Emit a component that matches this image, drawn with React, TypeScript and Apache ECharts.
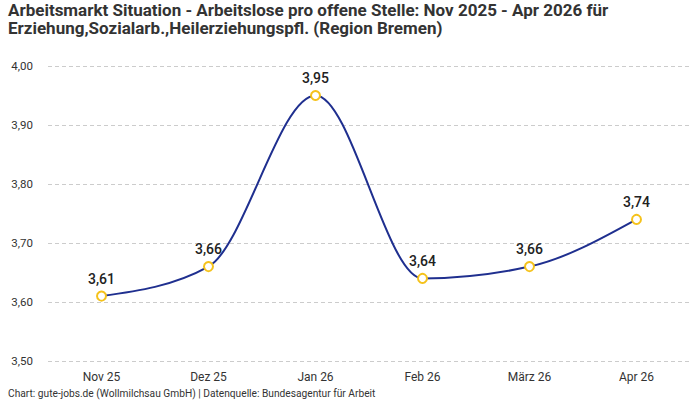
import React, { useEffect, useRef } from "react";
import * as echarts from "echarts";

const categories = ["Nov 25", "Dez 25", "Jan 26", "Feb 26", "März 26", "Apr 26"];
const values = [3.61, 3.66, 3.95, 3.64, 3.66, 3.74];
const titleText =
  "Arbeitsmarkt Situation - Arbeitslose pro offene Stelle: Nov 2025 - Apr 2026 für\nErziehung,Sozialarb.,Heilerziehungspfl. (Region Bremen)";
const footerText =
  "Chart: gute-jobs.de (Wollmilchsau GmbH) | Datenquelle: Bundesagentur für Arbeit";

const fmt = (v: number) => v.toFixed(2).replace(".", ",");

// monotone cubic (monotoneX) path through pixel points
function monotonePath(pts: number[][]): string {
  const n = pts.length;
  if (n < 2) return "";
  const s: number[] = [];
  const h: number[] = [];
  for (let i = 0; i < n - 1; i++) {
    h.push(pts[i + 1][0] - pts[i][0]);
    s.push((pts[i + 1][1] - pts[i][1]) / h[i]);
  }
  const t: number[] = new Array(n).fill(0);
  for (let i = 1; i < n - 1; i++) {
    const s0 = s[i - 1];
    const s1 = s[i];
    if (s0 * s1 <= 0) {
      t[i] = 0;
    } else {
      const p = (s0 * h[i] + s1 * h[i - 1]) / (h[i - 1] + h[i]);
      t[i] =
        (Math.sign(s0) + Math.sign(s1)) *
        Math.min(Math.abs(s0), Math.abs(s1), 0.5 * Math.abs(p));
    }
  }
  t[0] = (3 * s[0] - t[1]) / 2;
  t[n - 1] = (3 * s[n - 2] - t[n - 2]) / 2;
  let d = `M${pts[0][0]},${pts[0][1]}`;
  for (let i = 0; i < n - 1; i++) {
    const dx = h[i] / 3;
    const c1x = pts[i][0] + dx;
    const c1y = pts[i][1] + dx * t[i];
    const c2x = pts[i + 1][0] - dx;
    const c2y = pts[i + 1][1] - dx * t[i + 1];
    d += ` C${c1x},${c1y} ${c2x},${c2y} ${pts[i + 1][0]},${pts[i + 1][1]}`;
  }
  return d;
}

export default function App() {
  const ref = useRef<HTMLDivElement>(null);
  useEffect(() => {
    if (!ref.current) return;
    const chart = echarts.init(ref.current, undefined, { renderer: "svg" });
    chart.setOption({
      animation: false,
      backgroundColor: "#ffffff",
      textStyle: { fontFamily: "Roboto, sans-serif" },
      title: {
        text: titleText,
        left: 8,
        top: 1,
        padding: 0,
        textStyle: {
          fontSize: 17,
          fontWeight: "bold",
          color: "#333333",
          lineHeight: 18,
          fontFamily: "Roboto, sans-serif",
        },
      },
      graphic: [
        {
          type: "text",
          left: 8,
          bottom: 2,
          style: {
            text: footerText,
            fontSize: 10.2,
            fill: "#333333",
            fontFamily: "Roboto, sans-serif",
          },
        },
      ],
      grid: { left: 48, right: 10, top: 66, bottom: 39 },
      xAxis: {
        type: "category",
        data: categories,
        boundaryGap: true,
        axisLine: { show: false },
        axisTick: { show: false },
        axisLabel: { color: "#333333", fontSize: 12, margin: 10 },
      },
      yAxis: {
        type: "value",
        min: 3.5,
        max: 4.0,
        interval: 0.1,
        axisLine: { show: false },
        axisTick: { show: false },
        axisLabel: {
          color: "#333333",
          fontSize: 11.5,
          margin: 15,
          formatter: (v: number) => fmt(v),
        },
        splitLine: { lineStyle: { color: "#cccccc", type: [4, 3] } },
      },
      series: [
        {
          type: "custom",
          data: values.map((v, i) => [i, v]),
          z: 1,
          silent: true,
          renderItem: (params: any, api: any) => {
            if (params.dataIndex !== 0) return null;
            const pts = values.map((v, i) => api.coord([i, v]));
            return {
              type: "path",
              shape: { pathData: monotonePath(pts) },
              style: { fill: "none", stroke: "#1f2f8f", lineWidth: 2 },
            };
          },
        },
        {
          type: "line",
          data: values,
          z: 3,
          symbol: "emptyCircle",
          symbolSize: 9,
          lineStyle: { width: 0, opacity: 0 },
          itemStyle: { color: "#f5c21b", borderColor: "#f5c21b", borderWidth: 2 },
          label: {
            show: true,
            position: "top",
            distance: 5,
            fontSize: 14,
            fontWeight: 500,
            color: "#222222",
            formatter: (p: any) => fmt(p.value),
          },
        },
      ],
    });
    return () => chart.dispose();
  }, []);
  return (
    <div
      ref={ref}
      style={{ position: "fixed", left: 0, top: 0, width: 700, height: 400 }}
    />
  );
}
